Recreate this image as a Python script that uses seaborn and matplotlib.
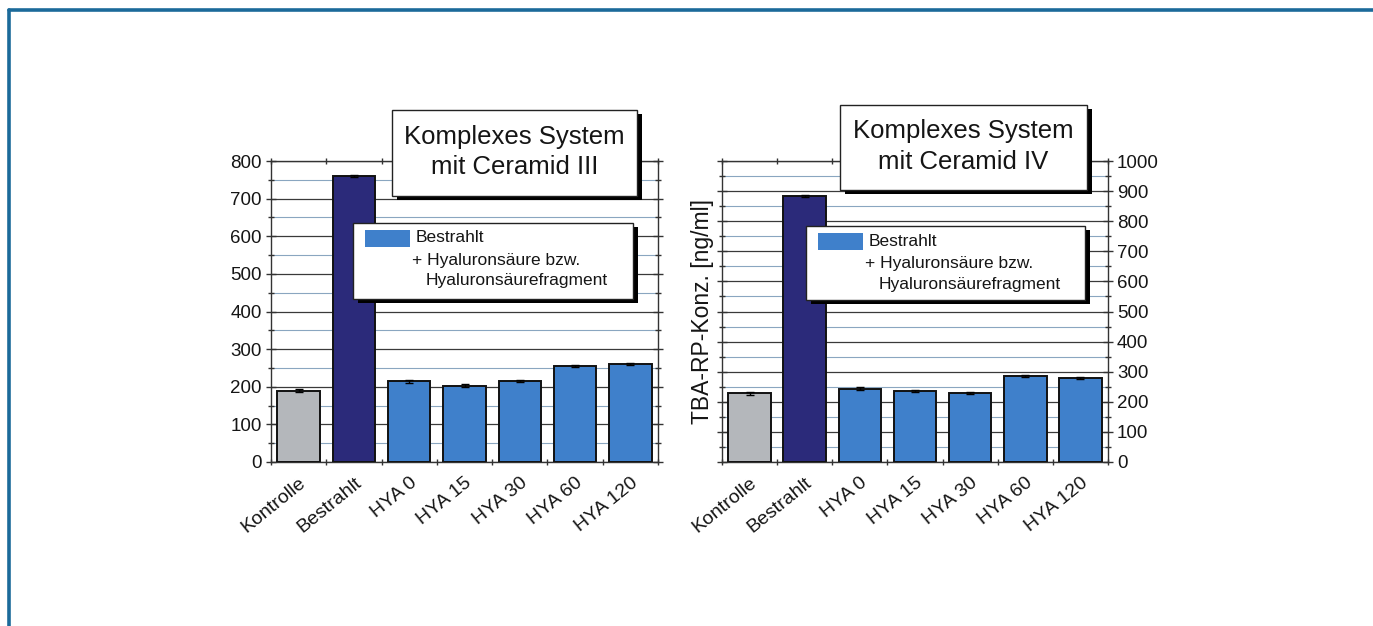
import matplotlib
matplotlib.use("Agg")
import matplotlib.pyplot as plt
import matplotlib.transforms as mtrans
import seaborn as sns
import pandas as pd
from matplotlib.patches import Rectangle
from matplotlib.ticker import MultipleLocator

# ---- data ----
categories = ["Kontrolle", "Bestrahlt", "HYA 0", "HYA 15", "HYA 30", "HYA 60", "HYA 120"]
values_ceramid_iii = [189, 760, 214, 203, 216, 255, 260]
errors_ceramid_iii = [4, 3, 4, 4, 3, 3, 3]
values_ceramid_iv = [228, 885, 244, 236, 229, 287, 280]
errors_ceramid_iv = [4, 3, 4, 3, 4, 3, 3]
titles = ["Komplexes System\nmit Ceramid III", "Komplexes System\nmit Ceramid IV"]
legend_title = "Bestrahlt"
legend_line2 = "+ Hyaluronsäure bzw."
legend_line3 = "Hyaluronsäurefragment"
ylabel = "TBA-RP-Konz. [ng/ml]"
bar_colors = ["#b4b7bb", "#2b2a7a", "#3f80cb", "#3f80cb", "#3f80cb", "#3f80cb", "#3f80cb"]

sns.set_theme(style="white")
plt.rcParams['font.family'] = ['Liberation Sans', 'DejaVu Sans']

W, H = 1373, 626
fig = plt.figure(figsize=(W / 100, H / 100), dpi=100)
fig.patch.set_facecolor("white")

def fx(px):
    return px / W

def fy(py):
    return 1 - py / H

# outer frame (top and left lines)
fig.add_artist(plt.Line2D([fx(9), 1.0], [fy(10), fy(10)], color="#1b6a9a", lw=2.6))
fig.add_artist(plt.Line2D([fx(9), fx(9)], [fy(10), 0.0], color="#1b6a9a", lw=2.6))

ax1 = fig.add_axes([fx(271), fy(462), fx(658) - fx(271), fy(161) - fy(462)])
ax2 = fig.add_axes([fx(722), fy(462), fx(1108) - fx(722), fy(161) - fy(462)])

TXT = "#151515"

def draw(ax, vals, errs, ymax):
    df = pd.DataFrame({"cat": categories, "val": vals})
    sns.barplot(data=df, x="cat", y="val", hue="cat", palette=bar_colors,
                order=categories, legend=False, ax=ax, width=0.77, saturation=1,
                edgecolor="#111111", linewidth=1.4, errorbar=None, zorder=3)
    ax.errorbar(range(len(categories)), vals, yerr=errs, fmt="none",
                ecolor="black", elinewidth=1.0, capsize=3, zorder=4)
    ax.set_xlim(-0.5, len(categories) - 0.5)
    ax.set_ylim(0, ymax)
    ax.yaxis.set_major_locator(MultipleLocator(100))
    ax.yaxis.set_minor_locator(MultipleLocator(50))
    ax.grid(which="major", axis="y", color="#3a3a3a", lw=0.9, zorder=0)
    ax.grid(which="minor", axis="y", color="#8aa6c0", lw=0.8, zorder=0)
    ax.set_axisbelow(True)
    ax.set_xlabel("")
    ax.set_ylabel("")
    ax.set_xticks(range(len(categories)))
    ax.set_xticks([i + 0.5 for i in range(-1, len(categories))], minor=True)
    ax.set_xticklabels(categories, rotation=39, ha="right", rotation_mode="anchor",
                       fontsize=14, color=TXT)
    off = mtrans.ScaledTranslation(9 / 100, 0, fig.dpi_scale_trans)
    for lab in ax.get_xticklabels():
        lab.set_transform(lab.get_transform() + off)
    ax.tick_params(axis="x", which="major", length=0, pad=9)
    ax.tick_params(axis="x", which="minor", length=5, direction="inout",
                   top=True, bottom=True, color="#333333")
    ax.tick_params(axis="y", which="major", length=7, direction="inout",
                   labelsize=13.5, labelcolor=TXT, color="#333333", width=1, pad=3)
    ax.tick_params(axis="y", which="minor", length=4, direction="inout", color="#333333")
    for s in ax.spines.values():
        s.set_color("#333333")
        s.set_linewidth(1.0)
    ax.set_facecolor("white")

draw(ax1, values_ceramid_iii, errors_ceramid_iii, 800)
draw(ax2, values_ceramid_iv, errors_ceramid_iv, 1000)
ax1.tick_params(axis="y", which="both", left=True, right=True, labelleft=True)
ax2.yaxis.tick_right()
ax2.tick_params(axis="y", which="both", left=True, right=True, labelright=True, labelleft=False)
ax2.yaxis.set_label_position("left")
ax2.set_ylabel(ylabel, fontsize=16.5, color=TXT, labelpad=2)

def shadow_box(x0, y0, x1, y1, off=5):
    fig.add_artist(Rectangle((fx(x0 + off), fy(y1 + off - 1)), fx(x1) - fx(x0), fy(y0) - fy(y1),
                             transform=fig.transFigure, facecolor="black",
                             edgecolor="none", zorder=5))
    fig.add_artist(Rectangle((fx(x0), fy(y1)), fx(x1) - fx(x0), fy(y0) - fy(y1),
                             transform=fig.transFigure, facecolor="white",
                             edgecolor="#222222", lw=1.0, zorder=6))

def title_box(x0, y0, x1, y1, text):
    shadow_box(x0, y0, x1, y1)
    fig.text((fx(x0) + fx(x1)) / 2, (fy(y0) + fy(y1)) / 2 + fy(0) - fy(1), text,
             ha="center", va="center", fontsize=18.5, color=TXT, linespacing=1.35, zorder=7)

def legend_box(x0, y0, x1, y1):
    shadow_box(x0, y0, x1, y1)
    fig.add_artist(Rectangle((fx(x0 + 12), fy(y0 + 24)), fx(45), fy(0) - fy(17),
                             transform=fig.transFigure, facecolor=bar_colors[2],
                             edgecolor="none", zorder=7))
    fig.text(fx(x0 + 63), fy(y0 + 15), legend_title, ha="left", va="center",
             fontsize=12.5, color=TXT, zorder=7)
    fig.text(fx(x0 + 59), fy(y0 + 38), legend_line2, ha="left", va="center",
             fontsize=12.5, color=TXT, zorder=7)
    fig.text(fx(x0 + 73), fy(y0 + 58), legend_line3, ha="left", va="center",
             fontsize=12.5, color=TXT, zorder=7)

title_box(392, 110, 637, 196, titles[0])
legend_box(353, 223, 633, 299)
title_box(840, 105, 1087, 190, titles[1])
legend_box(806, 226, 1085, 300)

fig.savefig("out.png", dpi=100)
